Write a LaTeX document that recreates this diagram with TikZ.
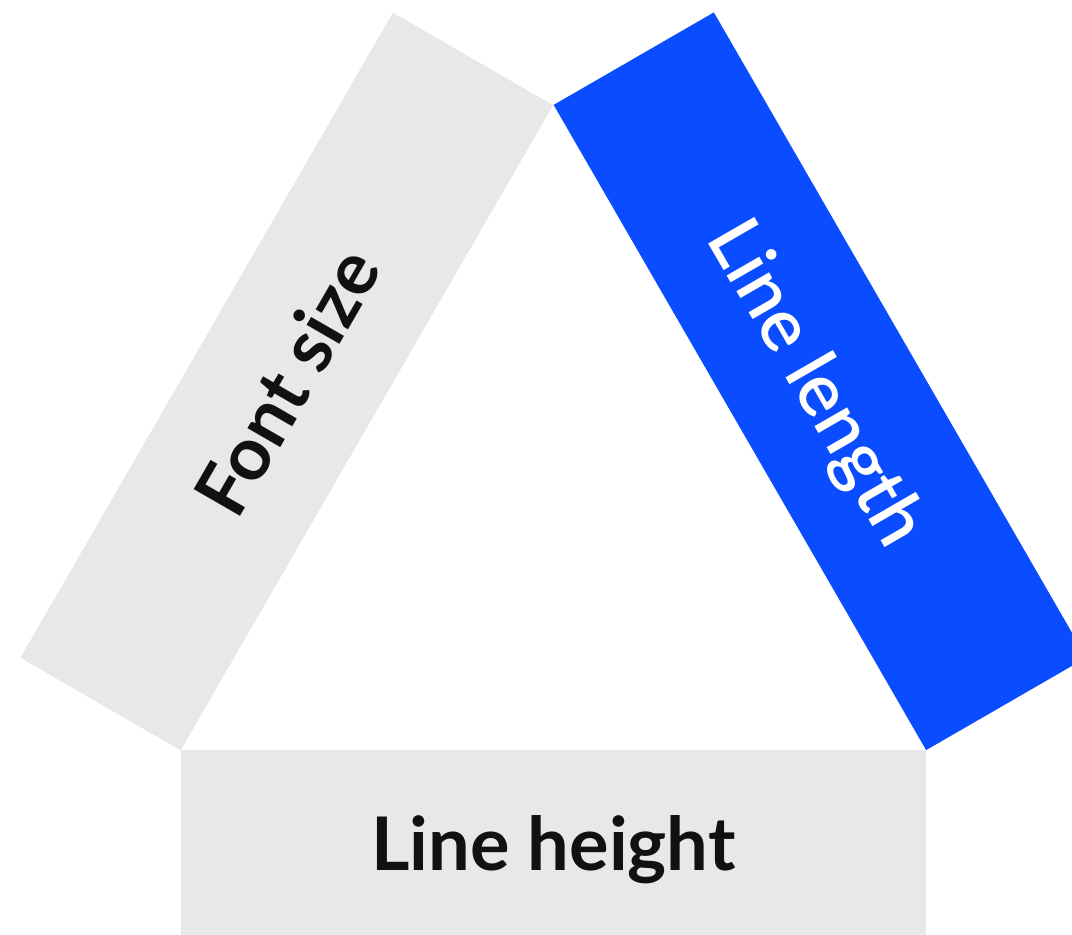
\documentclass[tikz,border=0pt]{standalone}
\usepackage{fontspec}
\setmainfont{Lato}
\IfFontExistsTF{Lato Semibold}
  {\newfontfamily\labelmid{Lato Semibold}}
  {\newfontfamily\labelmid{Lato}[FakeBold=1.2]}
\definecolor{barGray}{RGB}{232,232,232}
\definecolor{barBlue}{RGB}{10,76,255}
\definecolor{inkDark}{RGB}{17,17,17}
\begin{document}
\begin{tikzpicture}[x=1pt,y=-1pt,
  bar/.style={rectangle, inner sep=0pt, minimum width=745pt, minimum height=185pt,
    text depth=0pt},
  greybar/.style={bar, fill=barGray, text=inkDark,
    font=\fontsize{74}{80}\selectfont\bfseries},
  bluebar/.style={bar, fill=barBlue, text=white,
    font=\fontsize{74}{80}\selectfont\labelmid}]
  \useasboundingbox (0,0) rectangle (1072,935);
  \clip (0,0) rectangle (1072,935);
  % the three sides of the triangle
  \node[greybar, rotate=60]  (fontsize)   at (286.75,381.5) {Font size};
  \node[bluebar, rotate=-60] (linelength) at (820,381.25)   {Line length};
  \node[greybar]             (lineheight) at (553.5,842.5)  {Line height};
\end{tikzpicture}
\end{document}
